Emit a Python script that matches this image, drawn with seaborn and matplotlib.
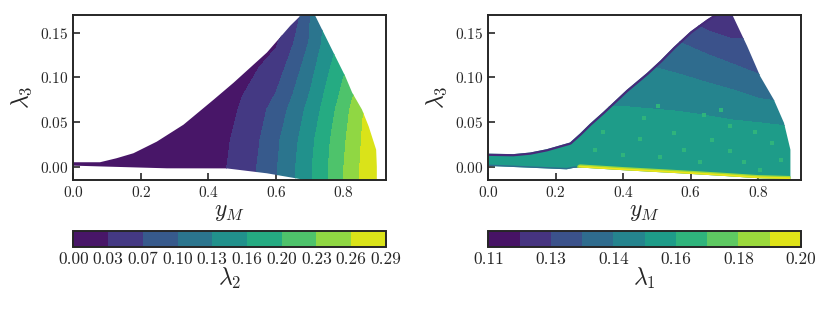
import numpy as np
import matplotlib
matplotlib.use("Agg")
import matplotlib.pyplot as plt
from matplotlib.patches import Polygon
import seaborn as sns

# ---- left panel: lambda_2 over (y_M, lambda_3) ----
ym_a = [0.0, 0.3, 0.45, 0.5, 0.55, 0.6, 0.65, 0.7, 0.75, 0.8, 0.85, 0.9, 0.95]
l3_a = [-0.03, 0.0, 0.03, 0.064, 0.14, 0.18]
lam2_rows = [
    [0.002, 0.012, 0.031, 0.049, 0.068, 0.095, 0.125, 0.158, 0.192, 0.2275, 0.262, 0.290, 0.291],
    [0.002, 0.012, 0.031, 0.049, 0.068, 0.095, 0.125, 0.158, 0.192, 0.2275, 0.262, 0.290, 0.291],
    [0.002, 0.011, 0.027, 0.046, 0.064, 0.091, 0.120, 0.153, 0.188, 0.223, 0.259, 0.290, 0.291],
    [0.002, 0.008, 0.020, 0.037, 0.055, 0.078, 0.108, 0.141, 0.1765, 0.214, 0.254, 0.290, 0.291],
    [0.001, 0.004, 0.010, 0.014, 0.019, 0.028, 0.063, 0.100, 0.143, 0.175, 0.210, 0.250, 0.290],
    [0.001, 0.002, 0.005, 0.008, 0.012, 0.018, 0.030, 0.095, 0.140, 0.170, 0.200, 0.240, 0.280],
]
# region outline of the left panel
top_ym_a = [0.0, 0.079, 0.128, 0.178, 0.247, 0.326, 0.415, 0.474, 0.573, 0.642, 0.677, 0.70,
            0.716, 0.78, 0.805, 0.825, 0.854, 0.874, 0.896, 0.898, 0.898]
top_l3_a = [0.0049, 0.0049, 0.0094, 0.015, 0.028, 0.047, 0.075, 0.094, 0.128, 0.158, 0.171, 0.18,
            0.169, 0.12, 0.101, 0.083, 0.064, 0.045, 0.019, 0.0, -0.03]
bot_ym_a = [0.0, 0.1, 0.277, 0.454, 0.573, 0.672, 0.898]
bot_l3_a = [0.0011, 0.0, -0.0019, -0.002, -0.0075, -0.014, -0.03]
lam2_ticklabels = ["0.00", "0.03", "0.07", "0.10", "0.13", "0.16", "0.20", "0.23", "0.26", "0.29"]

# ---- right panel: lambda_1 over (y_M, lambda_3) ----
ym_b = [0.0, 0.2, 0.4, 0.55, 0.65, 0.72, 0.8, 0.9, 0.95]
l3_b = [-0.02, 0.0, 0.03, 0.06, 0.09, 0.12, 0.14, 0.16, 0.18]
lam1_rows = [
    [0.157, 0.157, 0.157, 0.157, 0.157, 0.157, 0.157, 0.157, 0.157],
    [0.157, 0.157, 0.157, 0.157, 0.157, 0.157, 0.157, 0.157, 0.157],
    [0.157, 0.157, 0.157, 0.157, 0.157, 0.157, 0.157, 0.156, 0.156],
    [0.154, 0.154, 0.154, 0.153, 0.152, 0.151, 0.150, 0.149, 0.149],
    [0.149, 0.149, 0.148, 0.147, 0.145, 0.143, 0.139, 0.135, 0.135],
    [0.145, 0.145, 0.144, 0.141, 0.137, 0.134, 0.131, 0.130, 0.130],
    [0.141, 0.141, 0.140, 0.136, 0.131, 0.128, 0.128, 0.128, 0.128],
    [0.134, 0.134, 0.133, 0.131, 0.124, 0.121, 0.120, 0.120, 0.120],
    [0.122, 0.122, 0.122, 0.122, 0.122, 0.122, 0.122, 0.122, 0.122],
]
top_ym_b = [0.0, 0.074, 0.124, 0.173, 0.242, 0.272, 0.301, 0.341, 0.41, 0.47, 0.51, 0.549, 0.599,
            0.648, 0.673, 0.71, 0.722, 0.767, 0.806, 0.846, 0.876, 0.895, 0.895]
top_l3_b = [0.0145, 0.014, 0.0158, 0.0195, 0.027, 0.0372, 0.048, 0.0615, 0.086, 0.105, 0.119, 0.134,
            0.1515, 0.165, 0.171, 0.18, 0.171, 0.135, 0.101, 0.075, 0.049, 0.019, -0.02]
bot_ym_b = [0.0, 0.232, 0.252, 0.272, 0.40, 0.568, 0.70, 0.80, 0.895]
bot_l3_b = [0.0008, -0.003, -0.0015, -0.001, -0.004, -0.0075, -0.0105, -0.013, -0.014]
# lighter spots scattered in the lower part
spot_ym = [0.341, 0.504, 0.450, 0.549, 0.663, 0.717, 0.757, 0.806, 0.638, 0.688,
           0.460, 0.579, 0.509, 0.628, 0.717, 0.841, 0.866, 0.400, 0.317, 0.790]
spot_l3 = [0.039, 0.068, 0.031, 0.0375, 0.030, 0.017, 0.0056, -0.0037, 0.058, 0.064,
           0.054, 0.019, 0.011, 0.0056, 0.045, 0.026, 0.0075, 0.013, 0.019, 0.039]
lam1_ticklabels = ["0.11", "0.13", "0.14", "0.16", "0.18", "0.20"]

sns.set_style("ticks")
plt.rcParams.update({
    "font.family": "serif",
    "font.serif": ["cmr10"],
    "mathtext.fontset": "cm",
    "axes.formatter.use_mathtext": True,
    "axes.linewidth": 1.4,
    "xtick.direction": "in",
    "ytick.direction": "in",
    "xtick.major.size": 5,
    "ytick.major.size": 5,
    "xtick.major.width": 1.2,
    "ytick.major.width": 1.2,
    "xtick.labelsize": 11,
    "ytick.labelsize": 11,
})
cmap = sns.color_palette("viridis", as_cmap=True)

fig = plt.figure(figsize=(8.3, 3.12), dpi=100)
ax1 = fig.add_axes([0.0883, 0.4231, 0.3767, 0.5288])
ax2 = fig.add_axes([0.5883, 0.4231, 0.3762, 0.5288])
cax1 = fig.add_axes([0.0883, 0.2074, 0.3767, 0.0534])
cax2 = fig.add_axes([0.5883, 0.2074, 0.3767, 0.0534])


def region(ax, top_x, top_y, bot_x, bot_y):
    pts = np.column_stack([list(top_x) + list(bot_x)[::-1], list(top_y) + list(bot_y)[::-1]])
    return Polygon(pts, closed=True, transform=ax.transData)


# left
lev_a = np.linspace(0.0, 0.293, 10)
cs1 = ax1.contourf(ym_a, l3_a, np.array(lam2_rows), levels=lev_a, cmap=cmap, antialiased=False)
cs1.set_clip_path(region(ax1, top_ym_a, top_l3_a, bot_ym_a, bot_l3_a))

# right
lev_b = np.linspace(0.1095, 0.1955, 11)
cs2 = ax2.contourf(ym_b, l3_b, np.array(lam1_rows), levels=lev_b, cmap=cmap, antialiased=False)
patch_b = region(ax2, top_ym_b, top_l3_b, bot_ym_b, bot_l3_b)
cs2.set_clip_path(patch_b)
spots = ax2.scatter(spot_ym, spot_l3, s=7, marker="s", color=cmap(0.65), linewidths=0)
spots.set_clip_path(patch_b)
n_top = top_ym_b.index(0.71)
edge_top, = ax2.plot(top_ym_b[:n_top + 1], top_l3_b[:n_top + 1], color=cmap(0.12), lw=3.2,
                     solid_capstyle="butt")
edge_top.set_clip_path(patch_b)
edge_blue, = ax2.plot(bot_ym_b[:4], bot_l3_b[:4], color=cmap(0.35), lw=2.0)
edge_blue.set_clip_path(patch_b)
edge_low, = ax2.plot(bot_ym_b[3:], bot_l3_b[3:], color=cmap(0.85), lw=4.5)
edge_low.set_clip_path(patch_b)
edge_low2, = ax2.plot(bot_ym_b[3:], bot_l3_b[3:], color=cmap(0.97), lw=2.6)
edge_low2.set_clip_path(patch_b)

for ax in (ax1, ax2):
    ax.set_xlim(0, 0.925)
    ax.set_ylim(-0.015, 0.17)
    ax.set_xticks([0.0, 0.2, 0.4, 0.6, 0.8])
    ax.set_yticks([0.0, 0.05, 0.10, 0.15])
    ax.set_xlabel(r"$y_M$", fontsize=17, labelpad=1)
    ax.set_ylabel(r"$\lambda_3$", fontsize=17, labelpad=4)
    ax.tick_params(top=False, right=False)

cb1 = fig.colorbar(cs1, cax=cax1, orientation="horizontal", ticks=lev_a)
cb1.set_ticklabels(lam2_ticklabels)
cb1.set_label(r"$\lambda_2$", fontsize=17, labelpad=-1)
cb2 = fig.colorbar(cs2, cax=cax2, orientation="horizontal", ticks=lev_b[::2])
cb2.set_ticklabels(lam1_ticklabels)
cb2.set_label(r"$\lambda_1$", fontsize=17, labelpad=-1)
for cb in (cb1, cb2):
    cb.outline.set_linewidth(1.4)
    cb.ax.tick_params(direction="in", length=5, width=1.2, labelsize=12.5)

fig.savefig("out.png", dpi=100)
